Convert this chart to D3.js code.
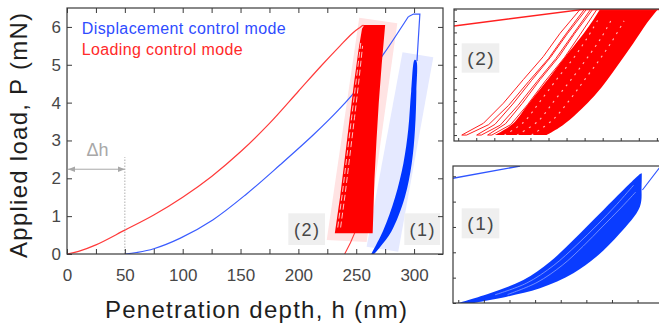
<!DOCTYPE html>
<html>
<head>
<meta charset="utf-8">
<title>Load - penetration depth</title>
<style>
  body { margin: 0; background: #fff; }
  svg { display: block; font-family: "Liberation Sans", Arial, sans-serif; }
  .frame { fill: none; stroke: #3a3a3a; stroke-width: 1.2; }
  .tick line { stroke: #3a3a3a; }
  .tick text { fill: #474747; font-size: 17px; }
  .tag rect { fill: #efefef; }
  .tag text { fill: #474747; text-anchor: middle; letter-spacing: 1.5px; }
</style>
<script src="https://d3js.org/d3.v7.min.js"></script>
</head>
<body>
<div id="chart"></div>
<script>
// ---------- data ----------
const hTicks = [0, 50, 100, 150, 200, 250, 300];
const hMinorTicks = [25, 75, 125, 175, 225, 275];
const pTicks = [0, 1, 2, 3, 4, 5, 6];
const legendNames = ['Displacement control mode', 'Loading control mode'];

// displacement control mode (blue): h in nm, P in mN
const dispH = [50, 60, 75, 98, 126, 155, 184, 213, 234.5, 256, 274, 295];
const dispP = [0, 0.04, 0.14, 0.42, 0.9, 1.58, 2.35, 3.15, 3.8, 4.55, 5.3, 6.27];
// hold at peak and unload into the cycles
const dispPeakH = [295, 299.5, 305, 302.5];
const dispPeakP = [6.27, 6.34, 6.34, 5.1];
// blue cyclic block outline
const dispBlockH = [263, 273.4, 283.6, 290.8, 295, 297.5, 300.5, 302, 302, 300.8, 298, 292, 280.5, 271, 265.5];
const dispBlockP = [0, 0.63, 1.5, 2.4, 3.3, 4.3, 5.13, 5.1, 4.3, 3.3, 2.4, 1.5, 0.6, 0.2, 0];

// loading control mode (red)
const loadH = [0, 10, 25, 50, 75, 100, 125, 150, 175, 200, 220, 236, 247, 253, 256, 258];
const loadP = [0, 0.07, 0.24, 0.63, 1.03, 1.5, 2.05, 2.7, 3.45, 4.3, 4.98, 5.5, 5.84, 5.98, 6.04, 6.0];
const loadUnloadH = [250, 245, 240];
const loadUnloadP = [0.65, 0.3, 0];
// red cyclic block outline
const loadBlockH = [257, 275, 272, 269.5, 267.5, 265.8, 264.2, 231.5, 236, 240, 244, 248, 252, 255];
const loadBlockP = [6.05, 6.05, 5.0, 4.0, 3.0, 2.0, 0.55, 0.55, 1.5, 2.5, 3.5, 4.5, 5.4, 5.95];
// white gaps between the first red loops
const loadGap1H = [234, 238, 242, 246, 250, 254];
const loadGap1P = [0.7, 1.6, 2.6, 3.6, 4.6, 5.6];
const loadGap2H = [236.5, 240.5, 244.5, 248.5, 252, 255.5];
const loadGap2P = [0.7, 1.6, 2.6, 3.6, 4.5, 5.5];

// shaded zones
const redZoneH = [252.6, 285.5, 259, 224.5];
const redZoneP = [6.24, 6.1, 0.32, 0.37];
const blueZoneH = [290, 316.6, 286.3, 259];
const blueZoneP = [5.33, 5.2, 0.06, 0.19];

// delta h annotation
const deltaH = [0, 50];
const deltaArrowP = 2.24;
const deltaLineTopP = 2.56;

// inset (2): zoom of red loops, relative units 0..100
const in2Top = [[0, 87.1], [61, 99.6], [100, 99.6]];
const in2Loops = [
  [[3.7, 4.5], [14, 13.4], [23.5, 28.6], [33, 46.5], [42.5, 63.9], [50.5, 81.6], [60, 99.6],
   [62, 99.6], [53, 80.5], [45, 62.5], [35.5, 45], [26, 27], [16.5, 12.4], [6, 4.5]],
  [[10.8, 4.5], [19.5, 12.6], [28, 28], [37, 46], [46, 63.5], [54, 81.3], [63, 99.6],
   [65, 99.6], [56.5, 80.5], [48.5, 62.5], [39.5, 45], [30.5, 27], [22, 12], [13, 4.5]],
  [[16, 4.5], [24.5, 13], [32.5, 28.5], [41, 46.5], [50, 64], [57.5, 81.5], [66, 99.6],
   [68, 99.6], [60, 80.5], [52.5, 63], [43.5, 45.5], [35, 27.5], [27, 12.4], [18, 4.5]]
];
const in2DenseUpper = [[19.5, 4.5], [28, 13], [35.6, 28.6], [45.7, 48.7], [52, 62], [56.8, 71.4], [62, 82],
  [66.3, 91.7], [69.5, 99.6]];
const in2DenseLower = [[97, 99.6], [91.8, 89.2], [85.4, 74], [77.5, 56.3], [67.9, 36.1],
  [56.8, 18.4], [50, 10], [44.1, 4.5]];
const in2Specks = [
  [[24, 4.5], [33, 14], [41, 30], [50, 49], [57, 63], [63, 77], [69, 93]],
  [[30, 4.5], [40, 15], [48, 31], [56, 47], [63, 62], [70, 78], [75, 92]],
  [[37, 4.5], [47, 16], [55, 31], [62, 46], [69, 61], [75, 75], [81, 91]]
];

// inset (1): zoom of blue loops, relative units 0..100
const in1Top = [[0, 91], [31.9, 100]];
const in1DenseUpper = [[2.5, 0], [17.6, 7.1], [33.5, 16.8], [46.2, 30.1], [57.3, 46], [66.8, 60.6],
  [76.3, 75.2], [84.3, 87.4], [89, 94.2]];
const in1DenseLower = [[89.9, 94.7], [89.8, 85], [89, 70.3], [79.5, 50.9],
  [68.4, 33.9], [57.3, 21.7], [41.4, 10.7], [25.6, 4.6], [9.7, 0]];
const in1Exit = [[90.2, 82.5], [98.1, 98.3], [100, 102]];
const in1Streaks = [
  [[20, 6], [35, 14.5], [48, 27.5], [59, 42.5], [69, 57.5], [78, 72], [86, 86]],
  [[26, 6.2], [40, 15], [52, 27.5], [62, 41.5], [71, 55.5], [80, 69.5], [87, 81]]
];

// ---------- layout ----------
const W = 659, H = 329;
const svg = d3.select('#chart').append('svg')
  .attr('width', W).attr('height', H);

const x = d3.scaleLinear().domain([0, 325]).range([67, 443]);
const y = d3.scaleLinear().domain([0, 6.5]).range([254, 8]);

const defs = svg.append('defs');
defs.append('clipPath').attr('id', 'mainClip')
  .append('rect').attr('x', 67).attr('y', 8).attr('width', 376).attr('height', 246);

function arrowMarker(id, orient) {
  defs.append('marker').attr('id', id)
    .attr('viewBox', '0 0 10 10').attr('refX', 10).attr('refY', 5)
    .attr('markerWidth', 7).attr('markerHeight', 7).attr('orient', orient)
    .append('path').attr('d', 'M0,1 L10,5 L0,9 Z').attr('fill', '#a8a8a8');
}
arrowMarker('arrEnd', 'auto');
arrowMarker('arrStart', 'auto-start-reverse');

const plot = svg.append('g').attr('clip-path', 'url(#mainClip)');
const zip = (hs, ps) => hs.map((h, i) => [h, ps[i]]);
const line = d3.line().x(d => x(d[0])).y(d => y(d[1]));
const smooth = d3.line().x(d => x(d[0])).y(d => y(d[1])).curve(d3.curveCatmullRom.alpha(0.5));

// shaded zones
plot.append('path').attr('d', line(zip(redZoneH, redZoneP)) + 'Z').attr('fill', '#ffe3e3');
plot.append('path').attr('d', line(zip(blueZoneH, blueZoneP)) + 'Z').attr('fill', '#e5e9ff');

// curves
plot.append('path').attr('d', smooth(zip(dispH, dispP)))
  .attr('fill', 'none').attr('stroke', '#3a5cff').attr('stroke-width', 1.2);
plot.append('path').attr('d', line(zip(dispPeakH, dispPeakP)))
  .attr('fill', 'none').attr('stroke', '#3a5cff').attr('stroke-width', 1.2);
plot.append('path').attr('d', smooth(zip(loadH, loadP)))
  .attr('fill', 'none').attr('stroke', '#ff3a3a').attr('stroke-width', 1.2);
plot.append('path').attr('d', line(zip(loadUnloadH, loadUnloadP)))
  .attr('fill', 'none').attr('stroke', '#ff3a3a').attr('stroke-width', 1.1);

// cyclic blocks
plot.append('path').attr('d', line(zip(loadBlockH, loadBlockP)) + 'Z').attr('fill', '#ff0000');
[zip(loadGap1H, loadGap1P), zip(loadGap2H, loadGap2P)].forEach(g => {
  plot.append('path').attr('d', line(g)).attr('fill', 'none')
    .attr('stroke', '#fff').attr('stroke-width', 0.9).attr('stroke-dasharray', '6,3').attr('opacity', 0.85);
});
plot.append('path').attr('d', smooth(zip(dispBlockH, dispBlockP)) + 'Z').attr('fill', '#0035ff');

// delta h annotation
svg.append('line')
  .attr('x1', x(deltaH[1])).attr('x2', x(deltaH[1]))
  .attr('y1', y(0)).attr('y2', y(deltaLineTopP))
  .attr('stroke', '#b0b0b0').attr('stroke-width', 1).attr('stroke-dasharray', '1.5,1.5');
svg.append('line')
  .attr('x1', x(deltaH[0]) + 1).attr('x2', x(deltaH[1]))
  .attr('y1', y(deltaArrowP)).attr('y2', y(deltaArrowP))
  .attr('stroke', '#a8a8a8').attr('stroke-width', 1)
  .attr('marker-start', 'url(#arrStart)').attr('marker-end', 'url(#arrEnd)');
svg.append('text').attr('x', x(26.4)).attr('y', y(2.59))
  .attr('text-anchor', 'middle').attr('font-size', 18).attr('fill', '#a8a8a8').text('Δh');

// tags
function tag(g, x0, y0, w, h, label, size) {
  const t = g.append('g').attr('class', 'tag');
  t.append('rect').attr('x', x0).attr('y', y0).attr('width', w).attr('height', h);
  t.append('text').attr('x', x0 + w / 2 + 0.7).attr('y', y0 + h / 2 + size * 0.36)
    .attr('font-size', size).text(label);
}
tag(svg, 288.3, 213.3, 36.7, 31.7, '(2)', 18);
tag(svg, 404.3, 213.3, 35.7, 31.7, '(1)', 18);

// axes
const allH = hTicks.concat(hMinorTicks).sort((a, b) => a - b);
svg.append('g').attr('transform', `translate(0,${y(0)})`)
  .call(d3.axisBottom(x).tickValues(allH).tickSizeInner(-5).tickSizeOuter(0).tickPadding(14.5)
    .tickFormat(d => hTicks.includes(d) ? d : ''))
  .call(g => g.select('.domain').remove());
svg.append('g').attr('transform', `translate(0,${y(6.5)})`)
  .call(d3.axisTop(x).tickValues(allH).tickSizeInner(-5).tickSizeOuter(0).tickFormat(''))
  .call(g => g.select('.domain').remove());
svg.append('g').attr('transform', `translate(${x(0)},0)`)
  .call(d3.axisLeft(y).tickValues(pTicks).tickSizeInner(-5).tickSizeOuter(0).tickPadding(6)
    .tickFormat(d3.format('d')))
  .call(g => g.select('.domain').remove());
svg.append('g').attr('transform', `translate(${x(325)},0)`)
  .call(d3.axisRight(y).tickValues(pTicks).tickSizeInner(-5).tickSizeOuter(0).tickFormat(''))
  .call(g => g.select('.domain').remove());
svg.append('rect').attr('class', 'frame')
  .attr('x', 67).attr('y', 8).attr('width', 376).attr('height', 246);

// axis titles
svg.append('text').attr('x', 256).attr('y', 318).attr('text-anchor', 'middle')
  .attr('font-size', 24).attr('fill', '#1e1e1e')
  .attr('textLength', 302).attr('lengthAdjust', 'spacing')
  .text('Penetration depth, h (nm)');
svg.append('text').attr('transform', 'translate(27,135.5) rotate(-90)')
  .attr('text-anchor', 'middle').attr('font-size', 24).attr('fill', '#1e1e1e')
  .attr('textLength', 245).attr('lengthAdjust', 'spacing')
  .text('Applied load, P (mN)');

// legend
svg.append('text').attr('x', 81.7).attr('y', 34).attr('font-size', 16)
  .attr('fill', '#2f4cff').attr('textLength', 204).attr('lengthAdjust', 'spacing')
  .text(legendNames[0]);
svg.append('text').attr('x', 81.7).attr('y', 54.5).attr('font-size', 16)
  .attr('fill', '#ff2a2a').attr('textLength', 161).attr('lengthAdjust', 'spacing')
  .text(legendNames[1]);

// ---------- insets ----------
function inset(id, box, yStep, yStart, xStep, xStart) {
  const ix = d3.scaleLinear().domain([0, 100]).range([box.x, box.x + box.w]);
  const iy = d3.scaleLinear().domain([0, 100]).range([box.y + box.h, box.y]);
  defs.append('clipPath').attr('id', id)
    .append('rect').attr('x', box.x).attr('y', box.y).attr('width', box.w).attr('height', box.h);
  const g = svg.append('g');
  const content = g.append('g').attr('clip-path', `url(#${id})`);
  const ticks = g.append('g');
  ticks.append('g').attr('transform', `translate(${box.x},0)`)
    .call(d3.axisLeft(iy).tickValues(d3.range(yStart, 100, yStep)).tickSizeInner(-3).tickSizeOuter(0).tickFormat(''))
    .call(a => a.select('.domain').remove());
  ticks.append('g').attr('transform', `translate(0,${box.y + box.h})`)
    .call(d3.axisBottom(ix).tickValues(d3.range(xStart, 100, xStep)).tickSizeInner(-3).tickSizeOuter(0).tickFormat(''))
    .call(a => a.select('.domain').remove());
  g.append('rect').attr('class', 'frame')
    .attr('x', box.x).attr('y', box.y).attr('width', box.w).attr('height', box.h);
  const mk = c => d3.line().x(d => ix(d[0])).y(d => iy(d[1])).curve(c);
  return { content, line: mk(d3.curveLinear), smooth: mk(d3.curveCatmullRom.alpha(0.5)) };
}

const in2 = inset('in2Clip', { x: 454, y: 9, w: 210, h: 132 }, 8.64, 4.5, 8.6, 2);
in2.content.append('path')
  .attr('d', in2.smooth(in2DenseUpper) + 'L' + in2.smooth(in2DenseLower).slice(1) + 'Z')
  .attr('fill', '#ff0000');
in2Specks.forEach(s => in2.content.append('path').attr('d', in2.smooth(s))
  .attr('fill', 'none').attr('stroke', '#fff').attr('stroke-width', 1.1)
  .attr('stroke-dasharray', '2,5').attr('opacity', 0.75));
in2Loops.forEach(l => in2.content.append('path').attr('d', in2.line(l) + 'Z')
  .attr('fill', 'none').attr('stroke', '#ff2020').attr('stroke-width', 1));
in2.content.append('path').attr('d', in2.line(in2Top))
  .attr('fill', 'none').attr('stroke', '#ff2020').attr('stroke-width', 1.4);
tag(svg, 461.7, 43.3, 37.6, 29.4, '(2)', 19);

const in1 = inset('in1Clip', { x: 453, y: 166, w: 210, h: 137 }, 18.5, 0, 12.2, 2.5);
in1.content.append('path')
  .attr('d', in1.smooth(in1DenseUpper) + 'L' + in1.smooth(in1DenseLower).slice(1) + 'Z')
  .attr('fill', '#0a3cff');
in1Streaks.forEach(s => in1.content.append('path').attr('d', in1.smooth(s))
  .attr('fill', 'none').attr('stroke', '#8aa2ff').attr('stroke-width', 0.8));
in1.content.append('path').attr('d', in1.line(in1Top))
  .attr('fill', 'none').attr('stroke', '#2f55ff').attr('stroke-width', 1.4);
in1.content.append('path').attr('d', in1.line(in1Exit))
  .attr('fill', 'none').attr('stroke', '#2f55ff').attr('stroke-width', 1.1);
tag(svg, 461.7, 208.3, 37.6, 30, '(1)', 19);
</script>
</body>
</html>
